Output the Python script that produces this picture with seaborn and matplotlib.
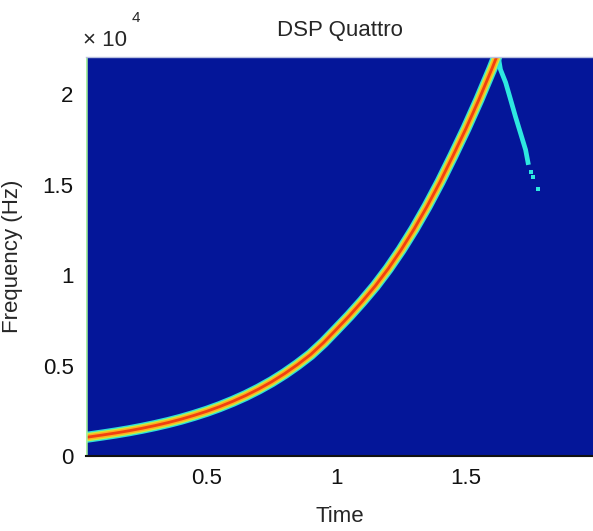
import matplotlib
matplotlib.use("Agg")
import matplotlib.pyplot as plt
import seaborn as sns
import pandas as pd

# ---- data ----
ridge_time = [0.034, 0.10, 0.15, 0.20, 0.25, 0.30, 0.35, 0.40, 0.45, 0.50,
              0.55, 0.60, 0.65, 0.70, 0.75, 0.80, 0.85, 0.90, 0.95, 1.00,
              1.05, 1.10, 1.15, 1.20, 1.25, 1.30, 1.35, 1.40, 1.45, 1.50,
              1.55, 1.60, 1.65]
ridge_freq = [1030, 1165, 1275, 1395, 1530, 1680, 1845, 2030, 2240, 2470,
              2730, 3020, 3340, 3700, 4100, 4550, 5050, 5600, 6260, 7000,
              7750, 8550, 9400, 10350, 11400, 12550, 13800, 15150, 16600, 18100,
              19700, 21400, 23200]

alias_time = [1.622, 1.633, 1.653, 1.672, 1.691, 1.710, 1.730, 1.741]
alias_freq = [22300, 21360, 20640, 19700, 18750, 17860, 16920, 16090]

alias_dot_time = [1.749, 1.757, 1.776]
alias_dot_freq = [15700, 15420, 14760]

x_ticks = [0.5, 1.0, 1.5]
x_tick_labels = ["0.5", "1", "1.5"]
y_ticks = [0, 5000, 10000, 15000, 20000]
y_tick_labels = ["0", "0.5", "1", "1.5", "2"]

title = "DSP Quattro"
x_label = "Time"
y_label = "Frequency (Hz)"

ridge = pd.DataFrame({"t": ridge_time, "f": ridge_freq})
alias = pd.DataFrame({"t": alias_time, "f": alias_freq})
dots = pd.DataFrame({"t": alias_dot_time, "f": alias_dot_freq})

sns.set_style("white")
plt.rcParams["font.family"] = ["Liberation Sans", "DejaVu Sans"]

fig = plt.figure(figsize=(5.93, 5.31), dpi=100)
ax = fig.add_axes([86 / 593, 1 - 456 / 531, 1 - 86 / 593, (456 - 57) / 531])
ax.set_facecolor("#041699")

# aliased (folded) component
sns.lineplot(data=alias, x="t", y="f", ax=ax, color="#2ee8e0", lw=3.4,
             solid_capstyle="butt", sort=False)
sns.scatterplot(data=dots, x="t", y="f", ax=ax, color="#2ee8e0", marker="s",
                s=7, linewidth=0)

# main chirp ridge, jet-like layers
for col, lw in [("#30e0d8", 8.0), ("#c8f040", 6.0), ("#ffb020", 4.2), ("#f04010", 2.0)]:
    sns.lineplot(data=ridge, x="t", y="f", ax=ax, color=col, lw=lw,
                 solid_capstyle="butt", sort=False)

ax.axvline(0.034, color="#a8f0a0", lw=1.8)

ax.set_xlim(0.034, 1.99)
ax.set_ylim(0, 22050)
ax.set_xticks(x_ticks)
ax.set_xticklabels(x_tick_labels)
ax.set_yticks(y_ticks)
ax.set_yticklabels(y_tick_labels)
ax.tick_params(length=0, labelsize=16, pad=9, colors="#111111")
ax.set_xlabel(x_label, fontsize=16, labelpad=12)
ax.set_ylabel(y_label, fontsize=16, labelpad=14)
ax.set_title(title, fontsize=16, pad=15)

for s in ["left", "right"]:
    ax.spines[s].set_visible(False)
ax.spines["top"].set_color("#b8c0e0")
ax.spines["top"].set_linewidth(1.0)
ax.spines["bottom"].set_color("#111111")
ax.spines["bottom"].set_linewidth(1.5)

fig.text(83 / 593, 1 - 40 / 531, "× 10", fontsize=16, va="center", ha="left")
fig.text(132 / 593, 1 - 18 / 531, "4", fontsize=11, va="center", ha="left")

fig.savefig("out.png", dpi=100, facecolor="white")
